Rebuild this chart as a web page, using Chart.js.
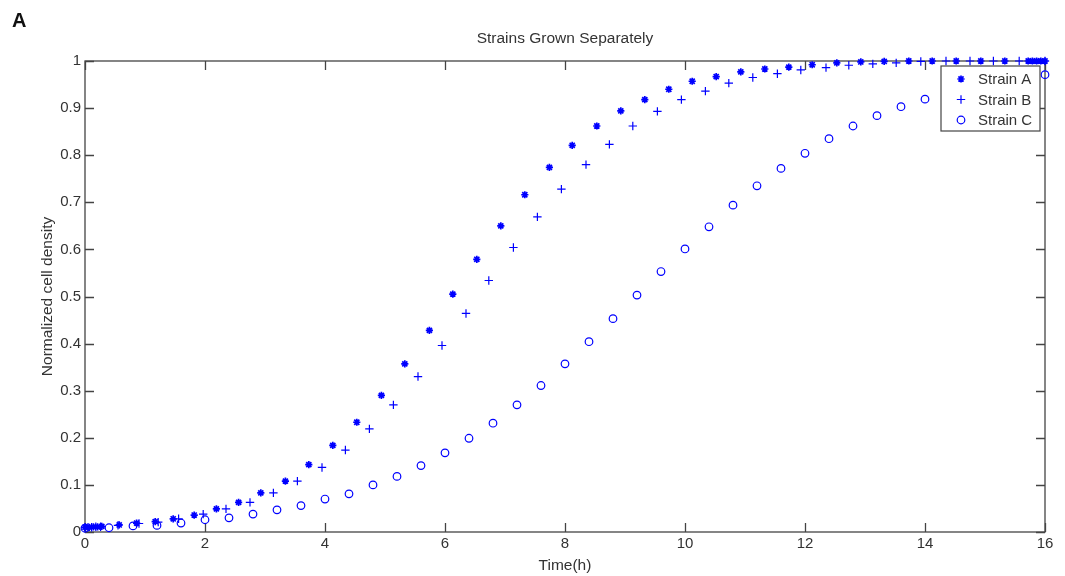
<!DOCTYPE html>
<html>
<head>
<meta charset="utf-8">
<title>Strains Grown Separately</title>
<script src="https://cdn.jsdelivr.net/npm/chart.js@4.4.1/dist/chart.umd.min.js"></script>
<style>
  html, body { margin: 0; padding: 0; background: #fff; }
  #wrap { position: relative; width: 1065px; height: 576px; }
  #panel { position: absolute; left: 12px; top: 9px; font: bold 20px "Liberation Sans", Arial, sans-serif; color: #111; }
</style>
</head>
<body>
<div id="wrap">
  <canvas id="growthChart"></canvas>
  <div id="panel">A</div>
</div>
<script>
// values (time in hours, normalized density)
const strainATime = [0, 0.07, 0.14, 0.21, 0.28, 0.57, 0.86, 1.17, 1.47, 1.82, 2.19, 2.56, 2.93, 3.34, 3.73, 4.13, 4.53, 4.94, 5.33, 5.74,
    6.13, 6.53, 6.93, 7.33, 7.74, 8.12, 8.53, 8.93, 9.33, 9.73, 10.12, 10.52, 10.93, 11.33, 11.73, 12.12, 12.53, 12.93, 13.32, 13.73,
    14.12, 14.52, 14.93, 15.33, 15.72, 15.79, 15.86, 15.93, 16.0];
const strainAValue = [0.010, 0.010, 0.011, 0.011, 0.012, 0.015, 0.019, 0.022, 0.028, 0.036, 0.049, 0.063, 0.083, 0.108, 0.143, 0.184, 0.233, 0.290, 0.357, 0.428,
    0.505, 0.579, 0.650, 0.716, 0.774, 0.821, 0.862, 0.894, 0.918, 0.940, 0.957, 0.967, 0.977, 0.983, 0.987, 0.992, 0.996, 0.998, 0.999, 1.0,
    1.0, 1.0, 1.0, 1.0, 1.0, 1.0, 1.0, 1.0, 1.0];

const strainBTime = [0, 0.05, 0.11, 0.18, 0.26, 0.55, 0.9, 1.22, 1.56, 1.97, 2.35, 2.75, 3.14, 3.54, 3.95, 4.34, 4.74, 5.14, 5.55, 5.95,
    6.35, 6.73, 7.14, 7.54, 7.94, 8.35, 8.74, 9.13, 9.54, 9.94, 10.34, 10.73, 11.13, 11.54, 11.93, 12.35, 12.73, 13.13, 13.52, 13.93,
    14.35, 14.75, 15.14, 15.57, 16.0];
const strainBValue = [0.010, 0.010, 0.010, 0.011, 0.011, 0.014, 0.018, 0.021, 0.028, 0.038, 0.049, 0.063, 0.083, 0.108, 0.137, 0.174, 0.219, 0.270, 0.330, 0.396,
    0.464, 0.534, 0.604, 0.669, 0.728, 0.780, 0.823, 0.862, 0.893, 0.918, 0.936, 0.953, 0.965, 0.973, 0.981, 0.986, 0.991, 0.994, 0.996, 0.999,
    1.0, 1.0, 1.0, 1.0, 1.0];

const strainCTime = [0, 0.4, 0.8, 1.2, 1.6, 2.0, 2.4, 2.8, 3.2, 3.6, 4.0, 4.4, 4.8, 5.2, 5.6, 6.0, 6.4, 6.8, 7.2, 7.6,
    8.0, 8.4, 8.8, 9.2, 9.6, 10.0, 10.4, 10.8, 11.2, 11.6, 12.0, 12.4, 12.8, 13.2, 13.6, 14.0, 14.4, 14.8, 15.2, 15.6, 16.0];
const strainCValue = [0.008, 0.009, 0.013, 0.014, 0.019, 0.026, 0.030, 0.038, 0.047, 0.056, 0.070, 0.081, 0.100, 0.118, 0.141, 0.168, 0.199, 0.231, 0.270, 0.311,
    0.357, 0.404, 0.453, 0.503, 0.553, 0.601, 0.648, 0.694, 0.735, 0.772, 0.804, 0.835, 0.862, 0.884, 0.903, 0.919, 0.933, 0.945, 0.955, 0.963, 0.971];

const seriesLabels = ['Strain A', 'Strain B', 'Strain C'];
const xTickStep = 2;
const yTickStep = 0.1;

const FONT = '"Liberation Sans", Arial, Helvetica, sans-serif';
const TEXT = '#333';
const AXIS = '#444';
const BLUE = '#0000ff';
const TICK_LEN = 9;

const toPoints = (xs, ys) => xs.map((t, i) => ({ x: t, y: ys[i] }));

// MATLAB-style box with inward ticks on every side
const matlabFrame = {
    id: 'matlabFrame',
    beforeDatasetsDraw(chart) {
        const { ctx, chartArea: a, scales: { x, y } } = chart;
        ctx.save();
        ctx.strokeStyle = AXIS;
        ctx.lineWidth = 1.3;
        ctx.strokeRect(a.left, a.top, a.right - a.left, a.bottom - a.top);
        ctx.beginPath();
        x.ticks.forEach(t => {
            const px = Math.round(x.getPixelForValue(t.value)) + 0.5;
            ctx.moveTo(px, a.bottom); ctx.lineTo(px, a.bottom - TICK_LEN);
            ctx.moveTo(px, a.top); ctx.lineTo(px, a.top + TICK_LEN);
        });
        y.ticks.forEach(t => {
            const py = Math.round(y.getPixelForValue(t.value)) + 0.5;
            ctx.moveTo(a.left, py); ctx.lineTo(a.left + TICK_LEN, py);
            ctx.moveTo(a.right, py); ctx.lineTo(a.right - TICK_LEN, py);
        });
        ctx.stroke();
        ctx.restore();
    }
};

// boxed legend in the top right corner, drawn over the markers
const boxLegend = {
    id: 'boxLegend',
    afterDatasetsDraw(chart) {
        const { ctx, chartArea: a } = chart;
        const w = 99, h = 65;
        const left = a.right - 5 - w, top = a.top + 5;
        ctx.save();
        ctx.fillStyle = '#fff';
        ctx.fillRect(left, top, w, h);
        ctx.strokeStyle = AXIS;
        ctx.lineWidth = 1.2;
        ctx.strokeRect(left, top, w, h);
        ctx.font = '15px ' + FONT;
        ctx.textBaseline = 'middle';
        ctx.textAlign = 'left';
        chart.data.datasets.forEach((ds, i) => {
            const cy = top + 13 + i * 20.5;
            ctx.strokeStyle = ds.borderColor;
            ctx.fillStyle = ds.backgroundColor;
            ctx.lineWidth = ds.borderWidth;
            Chart.helpers.drawPoint(ctx, {
                pointStyle: ds.pointStyle, radius: ds.pointRadius, rotation: 0, borderWidth: ds.borderWidth
            }, left + 20, cy);
            ctx.fillStyle = TEXT;
            ctx.fillText(ds.label, left + 37, cy + 1);
        });
        ctx.restore();
    }
};

const ctx = document.getElementById('growthChart');

new Chart(ctx, {
    type: 'scatter',
    data: {
        datasets: [
            {
                label: seriesLabels[0], data: toPoints(strainATime, strainAValue),
                pointStyle: 'star', pointRadius: 3.6, borderWidth: 1.7,
                borderColor: BLUE, backgroundColor: BLUE, clip: false
            },
            {
                label: seriesLabels[1], data: toPoints(strainBTime, strainBValue),
                pointStyle: 'cross', pointRadius: 4.2, borderWidth: 1.2,
                borderColor: BLUE, backgroundColor: BLUE, clip: false
            },
            {
                label: seriesLabels[2], data: toPoints(strainCTime, strainCValue),
                pointStyle: 'circle', pointRadius: 3.8, borderWidth: 1.2,
                borderColor: BLUE, backgroundColor: 'rgba(0,0,0,0)', clip: false
            }
        ]
    },
    options: {
        responsive: true,
        maintainAspectRatio: false,
        animation: false,
        events: [],
        layout: { padding: { left: 0, right: 20, top: 0, bottom: 0 } },
        plugins: {
            legend: { display: false },
            tooltip: { enabled: false },
            title: {
                display: true,
                text: 'Strains Grown Separately',
                fullSize: false,
                color: TEXT,
                font: { family: FONT, size: 15.5, weight: 'normal' },
                padding: { top: 29, bottom: 13.4 }
            }
        },
        scales: {
            x: {
                type: 'linear',
                min: 0, max: 16,
                afterFit: s => { s.height = 44; },
                grid: { display: false, drawTicks: false },
                border: { display: false },
                ticks: { stepSize: xTickStep, padding: 3, color: TEXT, font: { family: FONT, size: 15 } },
                title: {
                    display: true, text: 'Time(h)', color: TEXT,
                    font: { family: FONT, size: 15.5 }, padding: { top: 0, bottom: 1 }
                }
            },
            y: {
                min: 0, max: 1,
                afterFit: s => { s.width = 85; },
                grid: { display: false, drawTicks: false },
                border: { display: false },
                ticks: {
                    stepSize: yTickStep, padding: 4, color: TEXT, font: { family: FONT, size: 15 },
                    callback: v => String(Number(v.toFixed(1)))
                },
                title: {
                    display: true, text: 'Normalized cell density', color: TEXT,
                    font: { family: FONT, size: 15.5 }, padding: { top: 38, bottom: 0 }
                }
            }
        }
    },
    plugins: [matlabFrame, boxLegend]
});
</script>
</body>
</html>
